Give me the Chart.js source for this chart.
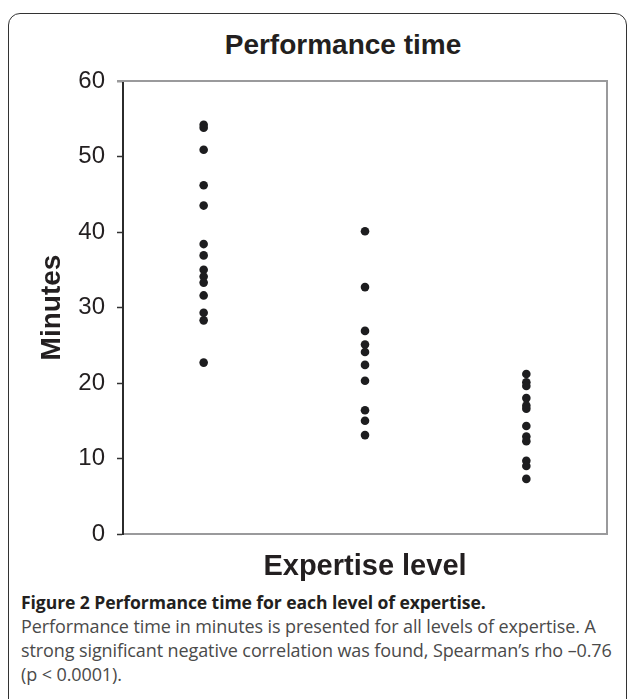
<!DOCTYPE html>
<html>
<head>
<meta charset="utf-8">
<script src="https://cdn.jsdelivr.net/npm/chart.js@4"></script>
<style>
  html, body { margin: 0; padding: 0; background: #fff; }
  body { width: 629px; height: 699px; position: relative; overflow: hidden; }
  .frame {
    position: absolute; left: 8px; top: 13px; width: 617px; height: 720px;
    border: 1.5px solid #333; border-radius: 12px;
  }
  .heading {
    position: absolute; left: 0; top: 29px; width: 686px; line-height: 32px;
    text-align: center; font: bold 28px "Liberation Sans", Arial, sans-serif; color: #231f20;
  }
  .chart-box { position: absolute; left: 0; top: 0; width: 629px; height: 590px; }
  .caption {
    position: absolute; left: 21px; top: 590px; width: 606px;
    font-family: "Open Sans", "Noto Sans", sans-serif; font-size: 18px; line-height: 24px;
    color: #231f20; white-space: nowrap; letter-spacing: -0.1px;
  }
  .caption b { font-weight: 700; font-size: 17.6px; }
  .caption span { color: #4a4a4a; }
</style>
</head>
<body>
<div class="frame"></div>
<div class="heading">Performance time</div>
<div class="chart-box"><canvas id="chart"></canvas></div>
<div class="caption">
  <b>Figure 2 Performance time for each level of expertise.</b><br>
  <span>Performance time in minutes is presented for all levels of expertise. A<br>
  strong significant negative correlation was found, Spearman’s rho –0.76<br>
  (p &lt; 0.0001).</span>
</div>
<script>
// Expertise levels placed along the x axis (no tick labels are shown)
const levels = [1, 2, 3];
// Performance time in minutes for each participant, grouped by level
const level1Minutes = [54.2, 53.8, 50.9, 46.2, 43.5, 38.4, 36.9, 35.0, 34.1, 33.3, 31.6, 29.3, 28.3, 22.7];
const level2Minutes = [40.1, 32.7, 26.9, 25.1, 24.1, 22.4, 20.3, 16.4, 15.0, 13.1];
const level3Minutes = [21.2, 20.1, 19.6, 18.0, 17.0, 16.6, 14.3, 12.9, 12.3, 9.7, 9.0, 7.3];
// Y axis tick values
const yTicks = [0, 10, 20, 30, 40, 50, 60];

const groups = [level1Minutes, level2Minutes, level3Minutes];
const points = [];
groups.forEach((vals, i) => vals.forEach(v => points.push({ x: levels[i], y: v })));

// Gray frame on the top and right of the plotting area
const plotFrame = {
  id: 'plotFrame',
  afterDraw(chart) {
    const { ctx, chartArea: a } = chart;
    ctx.save();
    ctx.strokeStyle = '#9a9a9c';
    ctx.lineWidth = 2;
    ctx.beginPath();
    ctx.moveTo(a.left - 6, a.top);
    ctx.lineTo(a.right, a.top);
    ctx.lineTo(a.right, a.bottom);
    ctx.stroke();
    ctx.restore();
  }
};

new Chart(document.getElementById('chart'), {
  type: 'scatter',
  data: {
    datasets: [{
      data: points,
      pointRadius: 4.3,
      pointHoverRadius: 4.3,
      backgroundColor: '#1d1d1f',
      borderWidth: 0,
      showLine: false
    }]
  },
  options: {
    responsive: true,
    maintainAspectRatio: false,
    animation: false,
    events: [],
    layout: { padding: { top: 81, right: 22, left: 0, bottom: 0 } },
    plugins: {
      legend: { display: false },
      tooltip: { enabled: false }
    },
    scales: {
      x: {
        type: 'linear',
        min: 0.5,
        max: 3.5,
        ticks: { display: false },
        grid: { display: false, drawTicks: false },
        border: { color: '#9a9a9c', width: 2 },
        title: {
          display: true,
          text: 'Expertise level',
          color: '#231f20',
          font: { family: '"Liberation Sans", Arial, sans-serif', size: 29, weight: 'bold' },
          padding: { top: 0, bottom: 6 }
        },
        afterFit(scale) { scale.height = 56; }
      },
      y: {
        min: 0,
        max: 60,
        afterBuildTicks(scale) { scale.ticks = yTicks.map(v => ({ value: v })); },
        ticks: {
          padding: 12,
          color: '#231f20',
          font: { family: '"Liberation Sans", Arial, sans-serif', size: 24 }
        },
        grid: {
          drawOnChartArea: false,
          drawTicks: true,
          tickLength: 6,
          tickColor: '#333',
          tickWidth: 1.5
        },
        border: { color: '#2b2b2b', width: 2 },
        title: {
          display: true,
          text: 'Minutes',
          color: '#231f20',
          font: { family: '"Liberation Sans", Arial, sans-serif', size: 28, weight: 'bold' },
          padding: { top: 35, bottom: 0 }
        },
        afterFit(scale) { scale.width = 123; }
      }
    }
  },
  plugins: [plotFrame]
});
</script>
</body>
</html>
